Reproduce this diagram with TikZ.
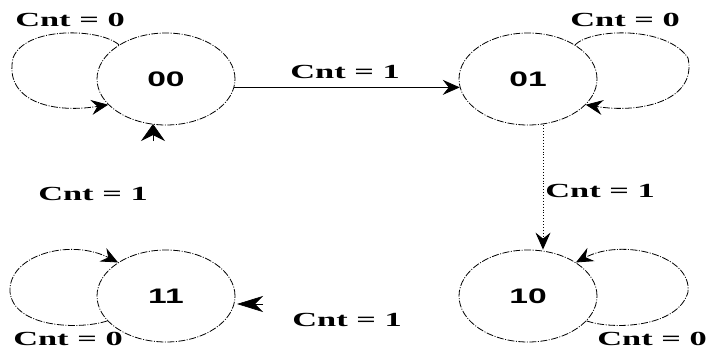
\documentclass[tikz,border=0pt]{standalone}
\usepackage{fontspec}
\usepackage{graphicx}
\usetikzlibrary{shapes.geometric,arrows.meta}
\newfontfamily\lblfont{Liberation Serif}
\newfontfamily\statefont{Liberation Sans}
\newcommand{\cntlabel}[1]{\scalebox{1.72}[1]{\lblfont\bfseries\fontsize{20}{24}\selectfont Cnt = #1}}
\newcommand{\statelabel}[1]{\scalebox{1.6}[1]{\statefont\bfseries\fontsize{21}{24}\selectfont #1}}
\tikzset{
  state/.style={ellipse, draw, minimum width=138pt, minimum height=92pt, inner sep=0pt,
    line width=0.8pt, dash pattern=on 7pt off 1.5pt on 1pt off 1.5pt},
  selfloop/.style={line width=0.8pt, dash pattern=on 7pt off 1.5pt on 1pt off 1.5pt},
  tip/.style={-{Stealth[length=17pt,width=15pt,inset=6pt]}},
  guard/.style={inner sep=0pt},
}
\begin{document}
\begin{tikzpicture}[x=1pt,y=-1pt]
  \useasboundingbox (0,0) rectangle (711,350);
  \fill[white] (0,0) rectangle (711,350);

  % states
  \node[state] (n00) at (166,79)  {\statelabel{00}};
  \node[state] (n01) at (528,79)  {\statelabel{01}};
  \node[state] (n11) at (166,296) {\statelabel{11}};
  \node[state] (n10) at (528,296) {\statelabel{10}};

  % self loops
  \draw[selfloop,tip] (n00.144) .. controls (100,28) and (25,26) .. (13,58)
        .. controls (4,100) and (50,114) .. (n00.204);
  \draw[selfloop,tip] (n01.36) .. controls (592,28) and (667,26) .. (688,58)
        .. controls (697,100) and (642,114) .. (n01.336);
  \draw[selfloop,tip] (n11.203) .. controls (80,330) and (14,328) .. (10,292)
        .. controls (8,255) and (70,238) .. (n11.145);
  \draw[selfloop,tip] (n10.337) .. controls (612,330) and (678,328) .. (688,292)
        .. controls (692,255) and (622,238) .. (n10.35);

  % transitions
  \draw[line width=0.8pt,tip] (n00.353) -- (n01.187);
  \draw[line width=0.9pt,dotted,tip] ([xshift=15pt]n01.south) -- ([xshift=15pt]n10.north);

  % loose arrow heads
  \coordinate (upA) at (153,141);
  \coordinate (upB) at (153,124);
  \draw[line width=0.6pt,-{Stealth[length=17pt,width=24pt,inset=6pt]}] (upA) -- (upB);
  \coordinate (leftA) at (263,304);
  \coordinate (leftB) at (237,304);
  \draw[line width=0.6pt,-{Stealth[length=26pt,width=16pt,inset=8pt]}] (leftA) -- (leftB);

  % guards
  \node[guard] (g1) at (70,20)   {\cntlabel{0}};
  \node[guard] (g2) at (625,20)  {\cntlabel{0}};
  \node[guard] (g3) at (345,72)  {\cntlabel{1}};
  \node[guard] (g4) at (93,194)  {\cntlabel{1}};
  \node[guard] (g5) at (600,191) {\cntlabel{1}};
  \node[guard] (g6) at (68,339)  {\cntlabel{0}};
  \node[guard] (g7) at (347,320) {\cntlabel{1}};
  \node[guard] (g8) at (652,339) {\cntlabel{0}};
\end{tikzpicture}
\end{document}
